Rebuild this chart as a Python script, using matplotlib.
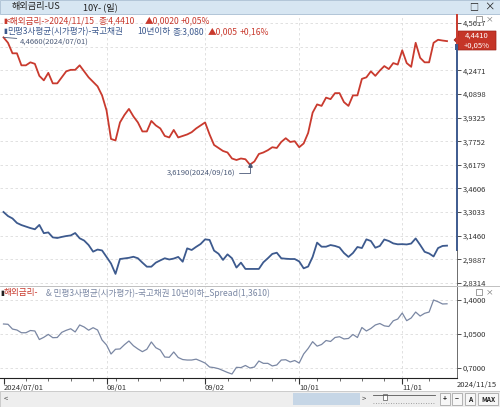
import numpy as np
import pandas as pd
import matplotlib
matplotlib.use('Agg')
import matplotlib.pyplot as plt
from matplotlib.patches import Rectangle, Polygon

plt.rcParams['font.family'] = ['Noto Sans CJK KR', 'DejaVu Sans']

# ---- data ----
dates = pd.bdate_range('2024-07-01', '2024-11-15')

us10y = [4.466, 4.43, 4.36, 4.36, 4.28, 4.28, 4.30, 4.29, 4.21, 4.18,
         4.23, 4.16, 4.16, 4.20, 4.24, 4.25, 4.25, 4.28, 4.24, 4.20,
         4.17, 4.14, 4.08, 3.98, 3.79, 3.78, 3.90, 3.95, 3.99, 3.94,
         3.90, 3.84, 3.84, 3.91, 3.88, 3.86, 3.81, 3.80, 3.85, 3.80,
         3.81, 3.82, 3.835, 3.86, 3.88, 3.90, 3.82, 3.75, 3.73, 3.71,
         3.70, 3.66, 3.65, 3.66, 3.655, 3.619, 3.64, 3.69, 3.70, 3.715,
         3.735, 3.73, 3.77, 3.795, 3.77, 3.775, 3.735, 3.76, 3.83, 3.965,
         4.02, 4.01, 4.065, 4.055, 4.095, 4.095, 4.035, 4.01, 4.08, 4.08,
         4.19, 4.20, 4.24, 4.21, 4.245, 4.275, 4.255, 4.295, 4.285, 4.38,
         4.295, 4.27, 4.43, 4.33, 4.30, 4.30, 4.43, 4.45, 4.445, 4.441]

kr10y = [3.304, 3.277, 3.261, 3.231, 3.217, 3.207, 3.197, 3.189, 3.218, 3.163,
         3.168, 3.135, 3.131, 3.138, 3.144, 3.148, 3.164, 3.129, 3.114, 3.084,
         3.040, 3.054, 3.048, 3.005, 2.961, 2.892, 2.991, 2.995, 2.999, 3.006,
         2.996, 2.967, 2.940, 2.940, 2.967, 2.982, 2.996, 2.988, 2.994, 3.005,
         2.973, 3.062, 3.051, 3.072, 3.091, 3.122, 3.118, 3.047, 3.026, 2.985,
         3.022, 2.996, 2.934, 2.967, 2.925, 2.925, 2.925, 2.925, 2.969, 2.996,
         3.025, 3.033, 2.996, 2.993, 2.991, 2.991, 2.975, 2.929, 2.941, 3.005,
         3.100, 3.073, 3.073, 3.084, 3.078, 3.068, 3.031, 3.005, 3.031, 3.071,
         3.064, 3.122, 3.111, 3.066, 3.078, 3.121, 3.111, 3.095, 3.089, 3.090,
         3.088, 3.094, 3.128, 3.085, 3.039, 3.028, 3.008, 3.064, 3.078, 3.080]

spread = [1.153, 1.150, 1.101, 1.091, 1.063, 1.063, 1.086, 1.081, 0.993, 1.016,
          1.046, 1.012, 1.014, 1.067, 1.088, 1.104, 1.071, 1.143, 1.122, 1.089,
          1.115, 1.091, 0.988, 0.937, 0.844, 0.893, 0.896, 0.940, 0.978, 0.929,
          0.896, 0.868, 0.893, 0.968, 0.909, 0.885, 0.813, 0.810, 0.865, 0.808,
          0.787, 0.782, 0.782, 0.791, 0.772, 0.751, 0.710, 0.704, 0.693, 0.674,
          0.654, 0.638, 0.707, 0.704, 0.726, 0.700, 0.710, 0.772, 0.748, 0.748,
          0.721, 0.731, 0.782, 0.785, 0.762, 0.777, 0.751, 0.844, 0.901, 0.971,
          0.925, 0.942, 0.983, 0.973, 1.014, 1.022, 0.999, 1.004, 1.045, 1.014,
          1.117, 1.081, 1.107, 1.143, 1.158, 1.134, 1.127, 1.186, 1.204, 1.266,
          1.187, 1.215, 1.276, 1.235, 1.263, 1.276, 1.400, 1.382, 1.359, 1.361]

main_ticks = [4.5617, 4.4044, 4.2471, 4.0898, 3.9325, 3.7752, 3.6179,
              3.4606, 3.3033, 3.1460, 2.9887, 2.8314]
spread_ticks = [1.4000, 1.0500, 0.7000]

red = '#c93a2e'
blue = '#3d5a8e'
gblue = '#7a87a3'
grid_c = '#dcdcdc'
txt = '#333333'

W, H = 500, 407


def rect(x0, y0, x1, y1):
    return [x0 / W, 1 - y1 / H, (x1 - x0) / W, (y1 - y0) / H]


def comma(v, n=4):
    return f'{v:.{n}f}'.replace('.', ',')


x = np.arange(len(dates))
month_idx = [i for i in range(len(dates)) if i == 0 or dates[i].month != dates[i - 1].month]
month_lbl = ['2024/07/01' if i == 0 else dates[i].strftime('%m/%d') for i in month_idx]
monday_idx = [i for i in range(len(dates)) if dates[i].weekday() == 0]

fig = plt.figure(figsize=(W / 100, H / 100), dpi=100)

# x: index 0 at 3.5px, 4.48px per day; axes span 0..457px
x0px, dx = 3.5, 4.48
xl = (-x0px / dx, (457 - x0px) / dx)

# ---- main panel ----
ax1 = fig.add_axes(rect(0, 15, 457, 285))
k1 = 0.1573 / 23.64
ax1.set_xlim(*xl)
ax1.set_ylim(2.8314 - 2 * k1, 4.5617 + 8 * k1)
for s in ax1.spines.values():
    s.set_visible(False)
ax1.yaxis.tick_right()
# the 4,4044 label sits under the last-value box
ax1.set_yticks(main_ticks, ['' if abs(v - 4.4044) < 1e-6 else comma(v) for v in main_ticks])
ax1.tick_params(axis='y', direction='out', length=3, width=0.6, colors=txt,
                labelsize=5.5, pad=1)
ax1.set_xticks([])
for v in main_ticks:
    ax1.axhline(v, color=grid_c, lw=0.6, ls=(0, (3, 3)), zorder=0)
for m in month_idx[1:]:
    ax1.axvline(m, color=grid_c, lw=0.6, ls=(0, (3, 3)), zorder=0)

ax1.plot(x, us10y, color=red, lw=1.3, zorder=3)
ax1.plot(x, kr10y, color=blue, lw=1.3, zorder=3)

imin = int(np.argmin(us10y))
ax1.annotate(f'{comma(us10y[imin])}(2024/09/16)', xy=(imin, us10y[imin]),
             xytext=(-14, -8), textcoords='offset pixels', ha='right', va='center',
             fontsize=5.5, color='#4b5a78',
             arrowprops=dict(arrowstyle='-', color='#4b5a78', lw=0.6,
                             connectionstyle='angle,angleA=0,angleB=90', shrinkA=0, shrinkB=1))
ax1.plot([imin], [us10y[imin]], marker='^', ms=2.5, color='#4b5a78', zorder=4)
ax1.annotate(f'{comma(us10y[0])}(2024/07/01)', xy=(0, us10y[0]),
             xytext=(16, -4), textcoords='offset pixels', ha='left', va='center',
             fontsize=5.5, color='#4b5a78',
             arrowprops=dict(arrowstyle='-', color='#4b5a78', lw=0.6, shrinkA=0, shrinkB=0))

# ---- spread panel ----
ax2 = fig.add_axes(rect(0, 287, 457, 378))
k2 = 0.35 / 34
ax2.set_xlim(*xl)
ax2.set_ylim(0.7 - 10 * k2, 1.4 + 13 * k2)
for s in ['top', 'left']:
    ax2.spines[s].set_visible(False)
ax2.spines['bottom'].set_color('#222222')
ax2.spines['right'].set_color('#555555')
ax2.spines['right'].set_linewidth(0.6)
ax2.yaxis.tick_right()
ax2.set_yticks(spread_ticks, [comma(v) for v in spread_ticks])
ax2.tick_params(axis='y', direction='out', length=3, width=0.6, colors=txt,
                labelsize=5.5, pad=1)
ax2.set_xticks(month_idx, month_lbl)
ax2.set_xticks(monday_idx, minor=True)
ax2.tick_params(axis='x', which='major', length=4, width=0.8, colors=txt,
                labelsize=5.5, pad=0)
ax2.tick_params(axis='x', which='minor', length=2.5, width=0.6, colors='#555555')
for lbl in ax2.get_xticklabels():
    lbl.set_ha('left')
for v in spread_ticks:
    ax2.axhline(v, color=grid_c, lw=0.6, ls=(0, (3, 3)), zorder=0)
for m in month_idx[1:]:
    ax2.axvline(m, color=grid_c, lw=0.6, ls=(0, (3, 3)), zorder=0)
ax2.plot(x, spread, color=gblue, lw=0.9, zorder=3)

# ---- decorations in pixel space ----
fg = fig.add_axes([0, 0, 1, 1], zorder=10)
fg.set_xlim(0, W)
fg.set_ylim(H, 0)
fg.axis('off')
fg.patch.set_alpha(0)

# title bar
fg.add_patch(Rectangle((0, 0), W, 14, facecolor='#d7e6f2', edgecolor='#a9bed2', lw=0.6))
fg.text(12, 7, '해외금리-US', fontsize=6.6, color='#222222', va='center')
fg.text(83, 7, '10Y- (일)', fontsize=6.6, color='#222222', va='center')
fg.text(474, 7, '□', fontsize=6.5, color='#222222', va='center', ha='center')
fg.text(489, 7, '×', fontsize=7.5, color='#222222', va='center', ha='center')

# right scale bars
fg.plot([457, 457], [15, 45], color=red, lw=1.4)
fg.plot([457, 457], [45, 250], color=blue, lw=1.4)
fg.plot([457, 457], [250, 285], color='#555555', lw=0.6)
fg.plot([0, W], [286, 286], color='#b5b5b5', lw=0.6)

# small window icons
for yy in (19, 292):
    fg.add_patch(Rectangle((476, yy - 3), 6, 6, facecolor='white', edgecolor='#777777', lw=0.5))
    fg.text(489, yy, '×', fontsize=5.5, color='#666666', va='center', ha='center')

# last value box
fg.add_patch(Polygon([(454, 40), (458, 36), (458, 31), (496, 31), (496, 50),
                      (458, 50), (458, 44)], closed=True, facecolor='#c53527',
                     edgecolor='#9c2218', lw=0.5))
fg.add_patch(Rectangle((455, 44), 3, 6, facecolor=blue, edgecolor='none'))
fg.text(477, 36, comma(us10y[-1]), fontsize=5.5, color='white', ha='center', va='center')
fg.text(477, 45.5, '+0,05%', fontsize=5.5, color='white', ha='center', va='center')

# legend rows
fs = 6.2
fg.text(3, 21, '▮', fontsize=5, color=red, va='center')
fg.text(6, 21, '<해외금리->2024/11/15', fontsize=fs, color=red, va='center')
fg.text(99, 21, '종:4,4410', fontsize=fs, color=red, va='center')
fg.text(145, 21, '▲0,0020', fontsize=fs, color=red, va='center')
fg.text(181, 21, '+0,05%', fontsize=fs, color=red, va='center')
fg.text(3, 31.5, '▮', fontsize=5, color=blue, va='center')
fg.text(7, 31.5, '민평3사평균(시가평가)-국고채권', fontsize=fs, color=blue, va='center')
fg.text(137, 31.5, '10년이하', fontsize=fs, color=blue, va='center')
fg.text(173, 31.5, '종:3,080', fontsize=fs, color=blue, va='center')
fg.text(208, 31.5, '▲0,005', fontsize=fs, color=red, va='center')
fg.text(240, 31.5, '+0,16%', fontsize=fs, color=red, va='center')

# spread header
fg.text(0, 293, '▮', fontsize=5, color='#222222', va='center')
fg.text(4, 293, '해외금리-', fontsize=fs, color=red, va='center')
fg.text(46, 293, '& 민평3사평균(시가평가)-국고채권 10년이하_Spread(1,3610)',
        fontsize=fs, color=gblue, va='center')

# last date label
fg.text(497, 385, '2024/11/15', fontsize=5.5, color=txt, ha='right', va='center')

# bottom scroll bar
fg.add_patch(Rectangle((0, 391), W, 16, facecolor='#eeeeee', edgecolor='#c4c4c4', lw=0.6))
fg.text(6, 399, '<', fontsize=5.5, color='#444444', va='center', ha='center')
fg.add_patch(Rectangle((293, 393), 67, 12, facecolor='#c6d6e6', edgecolor='none'))
fg.text(364, 399, '>', fontsize=5.5, color='#444444', va='center', ha='center')
fg.plot([373, 435], [395, 395], color='#555555', lw=0.6)
fg.plot([373, 435], [403, 403], color='#888888', lw=0.6, ls=(0, (1, 2)))
fg.add_patch(Rectangle((383, 394), 4, 6, facecolor='white', edgecolor='#555555', lw=0.5))
for bx, bw, lab in [(440, 10, '+'), (452, 10, '−'), (465, 10, 'A'), (478, 20, 'MAX')]:
    fg.add_patch(Rectangle((bx, 393), bw, 12, facecolor='#f7f7f7', edgecolor='#999999', lw=0.5))
    fg.text(bx + bw / 2, 399, lab, fontsize=4.8, color='#222222', ha='center', va='center',
            fontweight='bold')

fig.savefig('out.png', dpi=100)
